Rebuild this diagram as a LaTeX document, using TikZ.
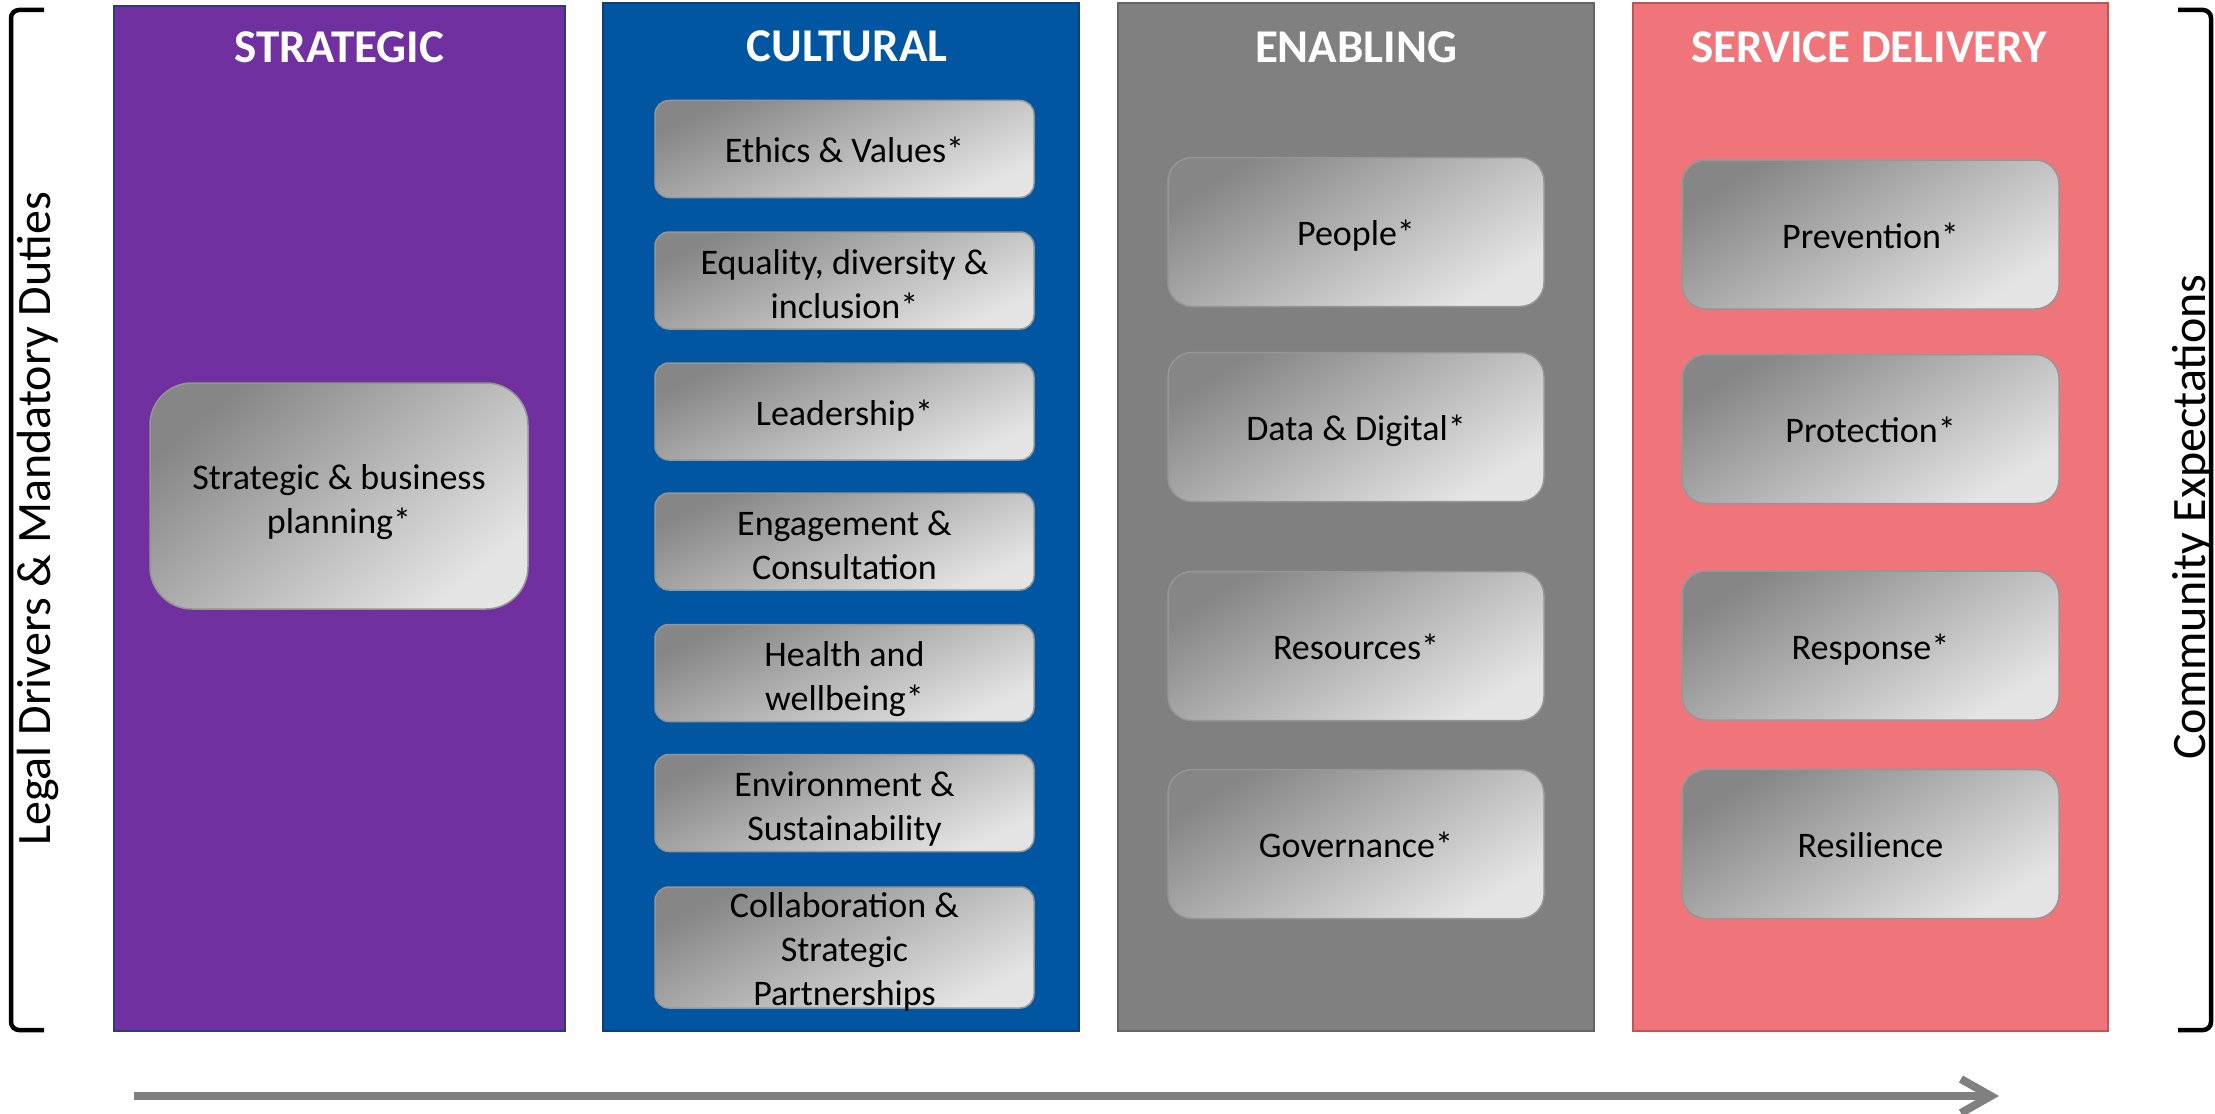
\documentclass[tikz,border=0pt]{standalone}
\usepackage{fontspec}
\setmainfont{Carlito}
\usetikzlibrary{arrows.meta}
\definecolor{cpurple}{RGB}{112,48,160}
\definecolor{cpurpleb}{RGB}{40,60,120}
\definecolor{cblue}{RGB}{0,86,160}
\definecolor{cblueb}{RGB}{20,60,120}
\definecolor{cgray}{RGB}{128,128,128}
\definecolor{cgrayb}{RGB}{100,100,100}
\definecolor{cred}{RGB}{239,117,122}
\definecolor{credb}{RGB}{190,85,90}
\definecolor{bdark}{RGB}{134,134,134}
\definecolor{blight}{RGB}{228,228,228}
\definecolor{bedge}{RGB}{150,150,150}
\definecolor{arrowgray}{RGB}{128,128,128}
\newcommand\tilebeg{\rule{0pt}{37pt}}
\newcommand\tilembeg{\rule{0pt}{41pt}}
\newcommand\tileend{\rule[-10pt]{0pt}{10pt}}
\tikzset{
  column/.style={line width=2.5pt},
  header/.style={text=white, font=\fontsize{47}{56}\selectfont\bfseries, anchor=base, inner sep=0pt},
  tiletext/.style={align=center, inner sep=0pt, font=\fontsize{36}{44}\selectfont, text=black},
  tile/.style={tiletext, draw=bedge, line width=1.5pt, top color=bdark, bottom color=blight},
  ctile/.style={tile, shading angle=25, rounded corners=14pt, minimum width=379pt, minimum height=97pt},
  etile/.style={tile, shading angle=32, rounded corners=24pt, minimum width=376pt, minimum height=149pt},
  stile/.style={tile, shading angle=32, rounded corners=24pt, minimum width=377pt, minimum height=149pt},
  sidelabel/.style={rotate=90, anchor=base, inner sep=0pt, font=\fontsize{48}{56}\selectfont},
  bracket/.style={line width=4.5pt, rounded corners=8pt},
}
\begin{document}
\begin{tikzpicture}[x=1pt,y=-1pt]
\useasboundingbox[fill=white] (0,0) rectangle (2215,1113);

% columns
\draw[column, fill=cpurple, draw=cpurpleb] (114,6) rectangle (565,1031);
\draw[column, fill=cblue, draw=cblueb] (603,3) rectangle (1079,1031);
\draw[column, fill=cgray, draw=cgrayb] (1118,3) rectangle (1594,1031);
\draw[column, fill=cred, draw=credb] (1633,3) rectangle (2108,1031);

% headers
\node[header] (hstrat) at (339.5,63) {STRATEGIC};
\node[header] (hcult) at (847,62) {CULTURAL};
\node[header] (henab) at (1356,63) {ENABLING};
\node[header] (hserv) at (1869,63) {SERVICE DELIVERY};

% strategic
\node[tile, shading angle=40, rounded corners=42pt, minimum width=378pt, minimum height=226pt] (plan) at (339,496) {\tilembeg Strategic \& business\\planning*\tileend};

% cultural
\node[ctile] (ethics) at (844.5,149) {\tilebeg Ethics \& Values*\tileend};
\node[ctile] (equality) at (844.5,280.5) {\tilembeg Equality, diversity \&\\inclusion*\tileend};
\node[ctile] (leader) at (844.5,411.5) {\tilebeg Leadership*\tileend};
\node[ctile] (engage) at (844.5,541.5) {\tilembeg Engagement \&\\Consultation\tileend};
\node[ctile] (health) at (844.5,673) {\tilembeg Health and\\wellbeing*\tileend};
\node[ctile] (environ) at (844.5,803) {\tilembeg Environment \&\\Sustainability\tileend};
\node[ctile, shading angle=28, minimum height=121pt] (collab) at (844.5,947.5) {};
\node[tiletext] (collabtext) at (844.5,950) {\rule{0pt}{33pt}Collaboration \&\\Strategic\\Partnerships\tileend};

% enabling
\node[etile] (people) at (1356,232) {\tilebeg People*\tileend};
\node[etile] (data) at (1356,427) {\tilebeg Data \& Digital*\tileend};
\node[etile] (resources) at (1356,646) {\tilebeg Resources*\tileend};
\node[etile] (govern) at (1356,844) {\tilebeg Governance*\tileend};

% service delivery
\node[stile] (prevent) at (1870.5,234.5) {\tilebeg Prevention*\tileend};
\node[stile] (protect) at (1870.5,429) {\tilebeg Protection*\tileend};
\node[stile] (respond) at (1870.5,645.5) {\tilebeg Response*\tileend};
\node[stile] (resil) at (1870.5,844) {\tilebeg Resilience\tileend};

% side labels
\node[sidelabel] (legal) at (50,519) {Legal Drivers \& Mandatory Duties};
\node[sidelabel] (community) at (2205,517) {Community Expectations};

% brackets
\draw[bracket] (44,10) -- (11,10) -- (11,1030) -- (44,1030);
\draw[bracket] (2178,10) -- (2211,10) -- (2211,1030) -- (2178,1030);

% arrow
\coordinate (astart) at (134,1096);
\coordinate (aend) at (1999,1096);
\draw[arrowgray, line width=8pt, -{Straight Barb[length=30pt, width=34pt]}] (astart) -- (aend);
\end{tikzpicture}
\end{document}
